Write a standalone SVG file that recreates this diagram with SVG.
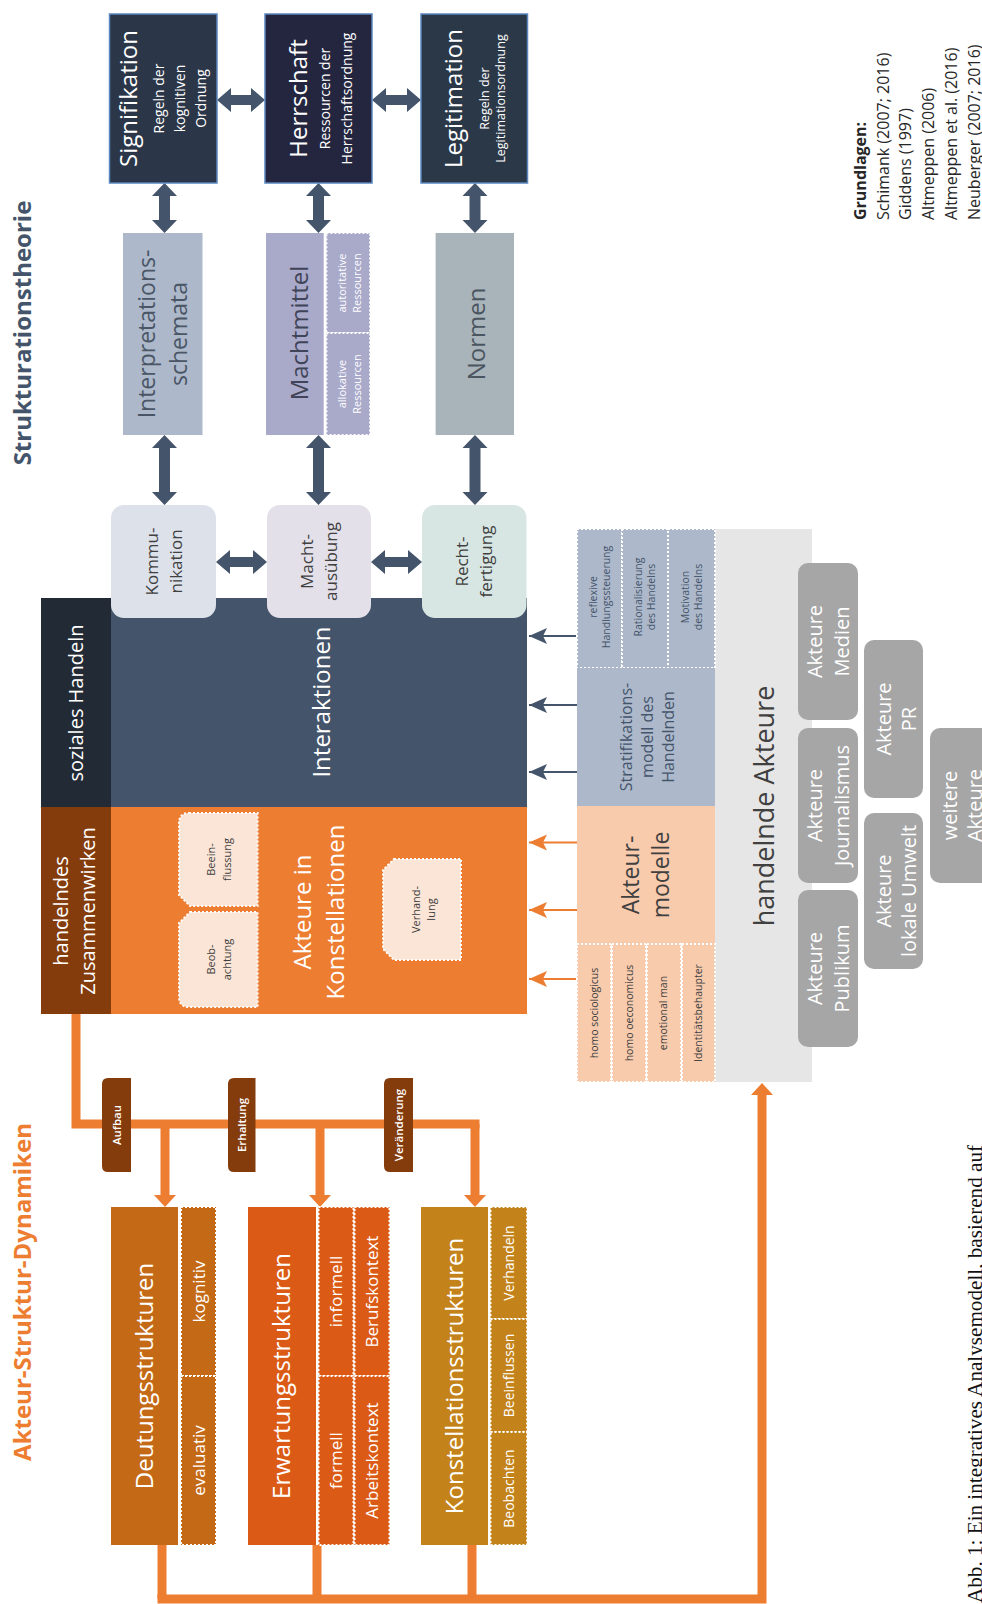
<svg xmlns="http://www.w3.org/2000/svg" width="982" height="1604" viewBox="0 0 982 1604">
<defs>
<style>
text{font-family:"Open Sans","DejaVu Sans",sans-serif;text-anchor:middle}
.w{fill:#ffffff}.dk{fill:#404040}.sl{fill:#44546a}.bk{fill:#262626}
.dot{stroke:#ffffff;stroke-width:2;stroke-dasharray:2 2}
.darr{fill:#44546a}
.oline{stroke:#ed7d31;stroke-width:9;fill:none;stroke-linejoin:miter;stroke-linecap:butt}
.ohead{fill:#ed7d31}
.top{stroke:#5a87bf;stroke-width:1.5}
.lab{fill:#843c0c}
</style>
<marker id="ah-s" viewBox="0 0 18 18" refX="18" refY="9" markerWidth="18" markerHeight="18" markerUnits="userSpaceOnUse" orient="auto"><path d="M0,1 L18,9 L0,17 L4,9 Z" fill="#44546a"/></marker>
<marker id="ah-o" viewBox="0 0 18 18" refX="18" refY="9" markerWidth="18" markerHeight="18" markerUnits="userSpaceOnUse" orient="auto"><path d="M0,1 L18,9 L0,17 L4,9 Z" fill="#ed7d31"/></marker>
</defs>
<rect x="0" y="0" width="982" height="1604" fill="#ffffff"/>

<g id="titles">
<text transform="translate(0,333) rotate(-90)" font-size="24" font-weight="700" class="sl"><tspan x="0" y="31">Strukturationstheorie</tspan></text>
<text transform="translate(0,1292) rotate(-90)" font-size="24" font-weight="700" fill="#ed7d31"><tspan x="0" y="31">Akteur-Struktur-Dynamiken</tspan></text>
</g>

<g id="grundlagen">
<text transform="translate(0,220) rotate(-90)" font-size="16" class="bk" style="text-anchor:start"><tspan x="0" y="866" font-weight="700">Grundlagen:</tspan><tspan x="0" y="889">Schimank (2007; 2016)</tspan><tspan x="0" y="911">Giddens (1997)</tspan><tspan x="0" y="934">Altmeppen (2006)</tspan><tspan x="0" y="957">Altmeppen et al. (2016)</tspan><tspan x="0" y="980">Neuberger (2007; 2016)</tspan></text>
</g>

<g id="caption">
<text transform="translate(0,1603) rotate(-90)" font-size="21" fill="#111111" style="text-anchor:start;font-family:'Liberation Serif','DejaVu Serif',serif" textLength="458" lengthAdjust="spacingAndGlyphs"><tspan x="0" y="982">Abb. 1: Ein integratives Analysemodell, basierend auf</tspan></text>
</g>

<g id="connectors">
<polygon class="darr" points="217,100 231,88 231,95 251,95 251,88 265,100 251,112 251,105 231,105 231,112"/>
<polygon class="darr" points="372,100 386,88 386,95 407,95 407,88 421,100 407,112 407,105 386,105 386,112"/>
<polygon class="darr" points="164.5,183 177,196 170,196 170,220 177,220 164.5,233 152,220 159,220 159,196 152,196"/>
<polygon class="darr" points="318.5,183 331,196 324,196 324,220 331,220 318.5,233 306,220 313,220 313,196 306,196"/>
<polygon class="darr" points="475,183 487.5,196 480.5,196 480.5,220 487.5,220 475,233 462.5,220 469.5,220 469.5,196 462.5,196"/>
<polygon class="darr" points="164.5,435 177,448 170,448 170,492 177,492 164.5,505 152,492 159,492 159,448 152,448"/>
<polygon class="darr" points="318.5,435 331,448 324,448 324,492 331,492 318.5,505 306,492 313,492 313,448 306,448"/>
<polygon class="darr" points="475,435 487.5,448 480.5,448 480.5,492 487.5,492 475,505 462.5,492 469.5,492 469.5,448 462.5,448"/>
<polygon class="darr" points="216,562 230,550 230,557 253,557 253,550 267,562 253,574 253,567 230,567 230,574"/>
<polygon class="darr" points="371,562 385,550 385,557 408,557 408,550 422,562 408,574 408,567 385,567 385,574"/>
<line x1="577" y1="636" x2="529" y2="636" stroke="#44546a" stroke-width="2" marker-end="url(#ah-s)"/>
<line x1="577" y1="705" x2="529" y2="705" stroke="#44546a" stroke-width="2" marker-end="url(#ah-s)"/>
<line x1="577" y1="772" x2="529" y2="772" stroke="#44546a" stroke-width="2" marker-end="url(#ah-s)"/>
<line x1="577" y1="842.5" x2="529" y2="842.5" stroke="#ed7d31" stroke-width="2" marker-end="url(#ah-o)"/>
<line x1="577" y1="910" x2="529" y2="910" stroke="#ed7d31" stroke-width="2" marker-end="url(#ah-o)"/>
<line x1="577" y1="979" x2="529" y2="979" stroke="#ed7d31" stroke-width="2" marker-end="url(#ah-o)"/>
<path class="oline" d="M76,1014 V1124 H479.5"/>
<path class="oline" d="M165,1124 V1196 M320,1124 V1196 M475,1124 V1196"/>
<polygon class="ohead" points="154,1195 176,1195 165,1207"/>
<polygon class="ohead" points="309,1195 331,1195 320,1207"/>
<polygon class="ohead" points="464,1195 486,1195 475,1207"/>
<path class="oline" d="M162,1545 V1599 M317,1545 V1599 M472,1545 V1599"/>
<path class="oline" d="M157.5,1599 H762 V1094"/>
<polygon class="ohead" points="751,1095 773,1095 762,1083"/>
</g>

<g id="signifikation">
<rect x="109.5" y="14" width="107.5" height="169" fill="#2b3648" class="top"/>
<text transform="translate(0,98.5) rotate(-90)" class="w"><tspan x="0" y="137" font-size="24">Signifikation</tspan><tspan x="0" y="164" font-size="14">Regeln der</tspan><tspan x="0" y="185" font-size="14">kognitiven</tspan><tspan x="0" y="206" font-size="14">Ordnung</tspan></text>
</g>
<g id="herrschaft">
<rect x="265" y="14" width="107" height="169" fill="#24263f" class="top"/>
<text transform="translate(0,98.5) rotate(-90)" class="w"><tspan x="0" y="307" font-size="24">Herrschaft</tspan><tspan x="0" y="330" font-size="14">Ressourcen der</tspan><tspan x="0" y="352" font-size="14">Herrschaftsordnung</tspan></text>
</g>
<g id="legitimation">
<rect x="421" y="14" width="106.5" height="169" fill="#2b3848" class="top"/>
<text transform="translate(0,98.5) rotate(-90)" class="w"><tspan x="0" y="462" font-size="24">Legitimation</tspan><tspan x="0" y="489" font-size="12.5">Regeln der</tspan><tspan x="0" y="505" font-size="12.5">Legitimationsordnung</tspan></text>
</g>

<g id="interpretationsschemata">
<rect x="123" y="233" width="79.5" height="202" fill="#adb9ca"/>
<text transform="translate(0,334) rotate(-90)" font-size="23" fill="#4a5566"><tspan x="0" y="155">Interpretations-</tspan><tspan x="0" y="187">schemata</tspan></text>
</g>
<g id="machtmittel">
<rect x="266" y="233" width="57.7" height="202" fill="#a9a9ca"/>
<rect x="326.4" y="233" width="43.6" height="100" fill="#a9a9ca" class="dot"/>
<rect x="326.4" y="333" width="43.6" height="102" fill="#a9a9ca" class="dot"/>
<text transform="translate(0,333) rotate(-90)" font-size="24" fill="#404458"><tspan x="0" y="308">Machtmittel</tspan></text>
<text transform="translate(0,283) rotate(-90)" font-size="11" class="w"><tspan x="0" y="346">autoritative</tspan><tspan x="0" y="361">Ressourcen</tspan></text>
<text transform="translate(0,384) rotate(-90)" font-size="11" class="w"><tspan x="0" y="346">allokative</tspan><tspan x="0" y="361">Ressourcen</tspan></text>
</g>
<g id="normen">
<rect x="435.6" y="233" width="78.4" height="202" fill="#a9b4ba"/>
<text transform="translate(0,334) rotate(-90)" font-size="24" fill="#4a5560"><tspan x="0" y="485">Normen</tspan></text>
</g>

<g id="sozialesHandeln">
<rect x="41" y="598" width="70" height="209" fill="#222a35"/>
<text transform="translate(0,703) rotate(-90)" font-size="20" class="w"><tspan x="0" y="83">soziales Handeln</tspan></text>
</g>
<g id="interaktionen">
<rect x="111" y="598" width="416" height="209" fill="#44546a"/>
<text transform="translate(0,702) rotate(-90)" font-size="24" class="w"><tspan x="0" y="330">Interaktionen</tspan></text>
</g>

<g id="kommunikation">
<rect x="111" y="505" width="105" height="113" rx="13" fill="#dde2ea"/>
<text transform="translate(0,561.5) rotate(-90)" font-size="17" class="dk"><tspan x="0" y="158">Kommu-</tspan><tspan x="0" y="182">nikation</tspan></text>
</g>
<g id="machtausuebung">
<rect x="267" y="505" width="104" height="113" rx="13" fill="#e3e0e9"/>
<text transform="translate(0,561.5) rotate(-90)" font-size="17" class="dk"><tspan x="0" y="313">Macht-</tspan><tspan x="0" y="337">ausübung</tspan></text>
</g>
<g id="rechtfertigung">
<rect x="422" y="505" width="104.5" height="113" rx="13" fill="#d8e6e3"/>
<text transform="translate(0,561.5) rotate(-90)" font-size="17" class="dk"><tspan x="0" y="468">Recht-</tspan><tspan x="0" y="492">fertigung</tspan></text>
</g>

<g id="handelndesZusammenwirken">
<rect x="41" y="807" width="70" height="207" fill="#843c0c"/>
<text transform="translate(0,911) rotate(-90)" font-size="20" class="w"><tspan x="0" y="68">handelndes</tspan><tspan x="0" y="95">Zusammenwirken</tspan></text>
</g>
<g id="akteureInKonstellationen">
<rect x="111" y="807" width="416" height="207" fill="#ed7d31"/>
<text transform="translate(0,912) rotate(-90)" font-size="24" class="w"><tspan x="0" y="311">Akteure in</tspan><tspan x="0" y="344">Konstellationen</tspan></text>
</g>
<g id="beeinflussung">
<path d="M189,813 H257.6 V906 H190 L179,895 V823 Q179,813 189,813 Z" fill="#fbe5d6" class="dot"/>
<text transform="translate(0,859.5) rotate(-90)" font-size="11" class="dk"><tspan x="0" y="215">Beein-</tspan><tspan x="0" y="231">flussung</tspan></text>
</g>
<g id="beobachtung">
<path d="M190,912 H257.6 V1007 H189 Q179,1007 179,997 V923 Z" fill="#fbe5d6" class="dot"/>
<text transform="translate(0,959.5) rotate(-90)" font-size="11" class="dk"><tspan x="0" y="215">Beob-</tspan><tspan x="0" y="231">achtung</tspan></text>
</g>
<g id="verhandlung">
<path d="M394,859 H461 V960 H394 L383,949 V870 Z" fill="#fbe5d6" class="dot"/>
<text transform="translate(0,909.5) rotate(-90)" font-size="11" class="dk"><tspan x="0" y="420">Verhand-</tspan><tspan x="0" y="435">lung</tspan></text>
</g>

<g id="handelndeAkteure">
<rect x="715" y="529" width="97" height="553" fill="#e7e6e6"/>
<text transform="translate(0,806) rotate(-90)" font-size="27" class="dk"><tspan x="0" y="774">handelnde Akteure</tspan></text>
</g>

<g id="stratifikation">
<rect x="577" y="529" width="45" height="139" fill="#adb9ca" class="dot"/>
<rect x="622" y="529" width="46" height="139" fill="#adb9ca" class="dot"/>
<rect x="668" y="529" width="47" height="139" fill="#adb9ca" class="dot"/>
<rect x="577" y="668" width="138" height="138" fill="#adb9ca"/>
<text transform="translate(0,597) rotate(-90)" font-size="10.5" class="sl"><tspan x="0" y="597">reflexive</tspan><tspan x="0" y="610">Handlungssteuerung</tspan></text>
<text transform="translate(0,597) rotate(-90)" font-size="10.5" class="sl"><tspan x="0" y="642">Rationalisierung</tspan><tspan x="0" y="655">des Handelns</tspan></text>
<text transform="translate(0,597) rotate(-90)" font-size="10.5" class="sl"><tspan x="0" y="689">Motivation</tspan><tspan x="0" y="702">des Handelns</tspan></text>
<text transform="translate(0,737) rotate(-90)" font-size="16" class="sl"><tspan x="0" y="632">Stratifikations-</tspan><tspan x="0" y="653">modell des</tspan><tspan x="0" y="674">Handelnden</tspan></text>
</g>

<g id="akteurmodelle">
<rect x="577" y="806" width="138" height="138" fill="#f8cbad"/>
<rect x="577" y="944" width="34" height="138" fill="#f8cbad" class="dot"/>
<rect x="612" y="944" width="34" height="138" fill="#f8cbad" class="dot"/>
<rect x="647" y="944" width="34" height="138" fill="#f8cbad" class="dot"/>
<rect x="682" y="944" width="33" height="138" fill="#f8cbad" class="dot"/>
<text transform="translate(0,875) rotate(-90)" font-size="23" class="dk"><tspan x="0" y="639">Akteur-</tspan><tspan x="0" y="669">modelle</tspan></text>
<text transform="translate(0,1013) rotate(-90)" font-size="10.5" class="dk"><tspan x="0" y="598">homo sociologicus</tspan><tspan x="0" y="633">homo oeconomicus</tspan><tspan x="0" y="667">emotional man</tspan><tspan x="0" y="702">Identitätsbehaupter</tspan></text>
</g>

<g id="akteureMedien">
<rect x="798" y="563" width="60" height="157" rx="10" fill="#a6a6a6"/>
<text transform="translate(0,641.5) rotate(-90)" font-size="20" class="w"><tspan x="0" y="822">Akteure</tspan><tspan x="0" y="849">Medien</tspan></text>
</g>
<g id="akteureJournalismus">
<rect x="798" y="728" width="60" height="155" rx="10" fill="#a6a6a6"/>
<text transform="translate(0,805.5) rotate(-90)" font-size="20" class="w"><tspan x="0" y="822">Akteure</tspan><tspan x="0" y="849">Journalismus</tspan></text>
</g>
<g id="akteurePublikum">
<rect x="798" y="890" width="60" height="157" rx="10" fill="#a6a6a6"/>
<text transform="translate(0,968.5) rotate(-90)" font-size="20" class="w"><tspan x="0" y="822">Akteure</tspan><tspan x="0" y="849">Publikum</tspan></text>
</g>
<g id="akteurePR">
<rect x="864" y="640" width="59" height="158" rx="10" fill="#a6a6a6"/>
<text transform="translate(0,719) rotate(-90)" font-size="20" class="w"><tspan x="0" y="891">Akteure</tspan><tspan x="0" y="916">PR</tspan></text>
</g>
<g id="akteureLokaleUmwelt">
<rect x="864" y="813" width="59" height="156" rx="10" fill="#a6a6a6"/>
<text transform="translate(0,891) rotate(-90)" font-size="20" class="w"><tspan x="0" y="891">Akteure</tspan><tspan x="0" y="916">lokale Umwelt</tspan></text>
</g>
<g id="weitereAkteure">
<rect x="930" y="728" width="62" height="155" rx="10" fill="#a6a6a6"/>
<text transform="translate(0,805.5) rotate(-90)" font-size="20" class="w"><tspan x="0" y="957">weitere</tspan><tspan x="0" y="982">Akteure</tspan></text>
</g>

<g id="labelAufbau">
<path class="lab" d="M131,1078 H108 Q102,1078 102,1084 V1166 Q102,1172 108,1172 H131 Z"/>
<text transform="translate(0,1125) rotate(-90)" font-size="11.5" font-weight="600" class="w"><tspan x="0" y="120.5">Aufbau</tspan></text>
</g>
<g id="labelErhaltung">
<path class="lab" d="M255.5,1078 H234 Q228,1078 228,1084 V1166 Q228,1172 234,1172 H255.5 Z"/>
<text transform="translate(0,1125) rotate(-90)" font-size="11.5" font-weight="600" class="w"><tspan x="0" y="246">Erhaltung</tspan></text>
</g>
<g id="labelVeraenderung">
<path class="lab" d="M413,1078 H390 Q384,1078 384,1084 V1166 Q384,1172 390,1172 H413 Z"/>
<text transform="translate(0,1125) rotate(-90)" font-size="11.5" font-weight="600" class="w"><tspan x="0" y="402.5">Veränderung</tspan></text>
</g>

<g id="deutungsstrukturen">
<rect x="111" y="1207" width="67" height="338" fill="#c46a16"/>
<rect x="181" y="1207" width="35" height="169" fill="#c46a16" class="dot"/>
<rect x="181" y="1376" width="35" height="169" fill="#c46a16" class="dot"/>
<text transform="translate(0,1376) rotate(-90)" font-size="24" class="w"><tspan x="0" y="153">Deutungsstrukturen</tspan></text>
<text transform="translate(0,1291.5) rotate(-90)" font-size="17" class="w"><tspan x="0" y="205">kognitiv</tspan></text>
<text transform="translate(0,1460.5) rotate(-90)" font-size="17" class="w"><tspan x="0" y="205">evaluativ</tspan></text>
</g>
<g id="erwartungsstrukturen">
<rect x="248" y="1207" width="68" height="338" fill="#db5b16"/>
<rect x="318.5" y="1207" width="35" height="169" fill="#db5b16" class="dot"/>
<rect x="318.5" y="1376" width="35" height="169" fill="#db5b16" class="dot"/>
<rect x="354.5" y="1207" width="35" height="169" fill="#db5b16" class="dot"/>
<rect x="354.5" y="1376" width="35" height="169" fill="#db5b16" class="dot"/>
<text transform="translate(0,1376) rotate(-90)" font-size="24" class="w"><tspan x="0" y="290">Erwartungsstrukturen</tspan></text>
<text transform="translate(0,1291.5) rotate(-90)" font-size="17" class="w"><tspan x="0" y="342">informell</tspan><tspan x="0" y="378">Berufskontext</tspan></text>
<text transform="translate(0,1460.5) rotate(-90)" font-size="17" class="w"><tspan x="0" y="342">formell</tspan><tspan x="0" y="378">Arbeitskontext</tspan></text>
</g>
<g id="konstellationsstrukturen">
<rect x="421" y="1207" width="67" height="338" fill="#c4831a"/>
<rect x="490.5" y="1207" width="36.5" height="112" fill="#c4831a" class="dot"/>
<rect x="490.5" y="1319" width="36.5" height="113" fill="#c4831a" class="dot"/>
<rect x="490.5" y="1432" width="36.5" height="113" fill="#c4831a" class="dot"/>
<text transform="translate(0,1376) rotate(-90)" font-size="24" class="w"><tspan x="0" y="463">Konstellationsstrukturen</tspan></text>
<text transform="translate(0,1263) rotate(-90)" font-size="14" class="w"><tspan x="0" y="514">Verhandeln</tspan></text>
<text transform="translate(0,1375.5) rotate(-90)" font-size="14" class="w"><tspan x="0" y="514">Beeinflussen</tspan></text>
<text transform="translate(0,1488.5) rotate(-90)" font-size="14" class="w"><tspan x="0" y="514">Beobachten</tspan></text>
</g>
</svg>
